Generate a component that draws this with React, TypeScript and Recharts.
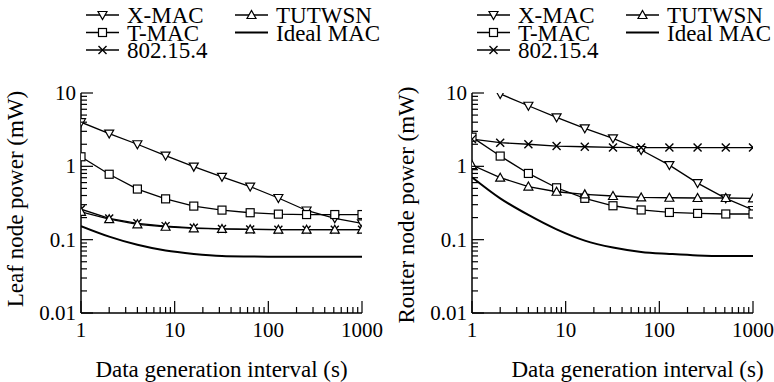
import React from 'react';
import { LineChart, Line, XAxis, YAxis } from 'recharts';

// ---------- data ----------
const intervals = [1, 2, 4, 8, 16, 32, 64, 128, 256, 512, 1000];

const seriesNames = ['X-MAC', 'T-MAC', '802.15.4', 'TUTWSN', 'Ideal MAC'];
const seriesKeys = ['xmac', 'tmac', 'ieee', 'tut', 'ideal'];
const seriesShapes = ['down', 'square', 'cross', 'up', 'none'];

const xmacLeaf = [4.0, 2.8, 2.0, 1.4, 0.99, 0.72, 0.53, 0.37, 0.25, 0.195, 0.167];
const tmacLeaf = [1.35, 0.78, 0.49, 0.36, 0.287, 0.253, 0.233, 0.223, 0.22, 0.22, 0.22];
const ieeeLeaf = [0.26, 0.195, 0.167, 0.153, 0.145, 0.14, 0.138, 0.137, 0.137, 0.137, 0.137];
const tutLeaf = [0.24, 0.19, 0.162, 0.15, 0.143, 0.14, 0.138, 0.137, 0.137, 0.137, 0.137];
const idealLeaf = [0.153, 0.11, 0.085, 0.071, 0.064, 0.06, 0.059, 0.0585, 0.0585, 0.0585, 0.0585];

const xmacRouter = [null, 9.7, 6.7, 4.66, 3.3, 2.41, 1.67, 1.04, 0.59, 0.366, 0.254];
const tmacRouter = [2.5, 1.38, 0.8, 0.51, 0.366, 0.29, 0.254, 0.235, 0.228, 0.224, 0.224];
const ieeeRouter = [2.35, 2.1, 2.0, 1.89, 1.85, 1.81, 1.8, 1.8, 1.8, 1.8, 1.8];
const tutRouter = [1.04, 0.7, 0.53, 0.45, 0.415, 0.394, 0.377, 0.373, 0.37, 0.37, 0.365];
const idealRouter = [0.71, 0.366, 0.217, 0.138, 0.097, 0.078, 0.068, 0.064, 0.061, 0.06, 0.06];

const xMajorTicks = [1, 10, 100, 1000];
const xTickLabels = ['1', '10', '100', '1000'];
const yMajorTicks = [0.01, 0.1, 1, 10];
const yTickLabels = ['0.01', '0.1', '1', '10'];
const minorMultipliers = [2, 3, 4, 5, 6, 7, 8, 9];

const xTitle = 'Data generation interval (s)';
const leafTitle = 'Leaf node power (mW)';
const routerTitle = 'Router node power (mW)';

// ---------- helpers ----------
function withMinor(majors: number[]): number[] {
  const out: number[] = [];
  majors.forEach((m, i) => {
    out.push(m);
    if (i < majors.length - 1) minorMultipliers.forEach((k) => out.push(Number((m * k).toPrecision(6))));
  });
  return out;
}
const xTicks = withMinor(xMajorTicks);
const yTicks = withMinor(yMajorTicks);

function majorIndex(v: number, majors: number[]): number {
  return majors.findIndex((m) => Math.abs(m - v) / m < 1e-6);
}

function buildRows(a: any[], b: any[], c: any[], d: any[], e: any[]) {
  return intervals.map((x, i) => ({ x, xmac: a[i], tmac: b[i], ieee: c[i], tut: d[i], ideal: e[i] }));
}
const leafRows = buildRows(xmacLeaf, tmacLeaf, ieeeLeaf, tutLeaf, idealLeaf);
const routerRows = buildRows(xmacRouter, tmacRouter, ieeeRouter, tutRouter, idealRouter);

const FONT = 'Liberation Serif';
const TXT = { fontFamily: FONT } as React.CSSProperties;
const MAJOR_LEN = 12;
const MINOR_LEN = 6;
const TICK_W = 1.2;

// ---------- markers ----------
function Marker({ shape, cx, cy }: { shape: string; cx: number; cy: number }) {
  if (cx == null || cy == null || isNaN(cx) || isNaN(cy)) return <g />;
  const sw = 1.2;
  switch (shape) {
    case 'down':
      return (
        <polygon
          points={`${cx - 4.5},${cy - 3.5} ${cx + 4.5},${cy - 3.5} ${cx},${cy + 4.5}`}
          fill="#fff" stroke="#000" strokeWidth={sw}
        />
      );
    case 'up':
      return (
        <polygon
          points={`${cx - 4.5},${cy + 3.5} ${cx + 4.5},${cy + 3.5} ${cx},${cy - 4.5}`}
          fill="#fff" stroke="#000" strokeWidth={sw}
        />
      );
    case 'square':
      return <rect x={cx - 4} y={cy - 4} width={8} height={8} fill="#fff" stroke="#000" strokeWidth={sw} />;
    case 'cross':
      return (
        <path
          d={`M${cx - 4},${cy - 4}L${cx + 4},${cy + 4}M${cx - 4},${cy + 4}L${cx + 4},${cy - 4}`}
          stroke="#000" strokeWidth={1.4} fill="none"
        />
      );
    default:
      return <g />;
  }
}

const makeDot = (shape: string) => (props: any) =>
  (
    <g key={`d-${shape}-${props.index}`}>
      <Marker shape={shape} cx={props.cx} cy={props.cy} />
    </g>
  );

// ---------- ticks ----------
const BottomTick = (p: any) => {
  const v = p.payload.value;
  const mi = majorIndex(v, xMajorTicks);
  const len = mi >= 0 ? MAJOR_LEN : MINOR_LEN;
  return (
    <g>
      <line x1={p.x} x2={p.x} y1={p.y} y2={p.y - len} stroke="#000" strokeWidth={TICK_W} />
      {mi >= 0 && (
        <text x={p.x} y={p.y + 24} textAnchor="middle" fontSize={21} style={TXT} fill="#000">
          {xTickLabels[mi]}
        </text>
      )}
    </g>
  );
};
const TopTick = (p: any) => {
  const v = p.payload.value;
  const len = majorIndex(v, xMajorTicks) >= 0 ? MAJOR_LEN : MINOR_LEN;
  return <line x1={p.x} x2={p.x} y1={p.y} y2={p.y + len} stroke="#000" strokeWidth={TICK_W} />;
};
const LeftTick = (p: any) => {
  const v = p.payload.value;
  const mi = majorIndex(v, yMajorTicks);
  const len = mi >= 0 ? MAJOR_LEN : MINOR_LEN;
  return (
    <g>
      <line x1={p.x} x2={p.x + len} y1={p.y} y2={p.y} stroke="#000" strokeWidth={TICK_W} />
      {mi >= 0 && (
        <text x={p.x - 5} y={p.y + 7} textAnchor="end" fontSize={21} style={TXT} fill="#000">
          {yTickLabels[mi]}
        </text>
      )}
    </g>
  );
};
const RightTick = (p: any) => {
  const v = p.payload.value;
  const len = majorIndex(v, yMajorTicks) >= 0 ? MAJOR_LEN : MINOR_LEN;
  return <line x1={p.x} x2={p.x - len} y1={p.y} y2={p.y} stroke="#000" strokeWidth={TICK_W} />;
};

// ---------- legend ----------
function LegendBox({ plotLeft }: { plotLeft: number }) {
  const rowsY = [15, 32.5, 50];
  return (
    <svg width={387} height={64} style={{ position: 'absolute', left: 0, top: 0, pointerEvents: 'none' }}>
      {seriesNames.map((name, i) => {
        const col = i < 3 ? 0 : 1;
        const row = i % 3;
        const x0 = plotLeft + 5 + col * 149;
        const cy = rowsY[row];
        return (
          <g key={name}>
            <line x1={x0} x2={x0 + 33} y1={cy} y2={cy} stroke="#000" strokeWidth={seriesShapes[i] === 'none' ? 2 : 1.3} />
            <Marker shape={seriesShapes[i]} cx={x0 + 16.5} cy={cy} />
            <text x={x0 + 41} y={cy + 8} fontSize={23} style={TXT} fill="#000">
              {name}
            </text>
          </g>
        );
      })}
    </svg>
  );
}

// ---------- panel ----------
function Panel({
  rows, yTitle, left, marginLeft, marginRight, xTitleDx, yTitleDy,
}: {
  rows: any[]; yTitle: string; left: number; marginLeft: number; marginRight: number; xTitleDx: number; yTitleDy: number;
}) {
  const axisLine = { stroke: '#000', strokeWidth: 1.5 };
  const xLabel = (props: any) => {
    const vb = props.viewBox || { x: 0, y: 0, width: 0 };
    return (
      <text x={vb.x + vb.width / 2 + xTitleDx} y={vb.y + 64} textAnchor="middle" fontSize={23} style={TXT} fill="#000">
        {xTitle}
      </text>
    );
  };
  const yLabel = (props: any) => {
    const vb = props.viewBox || { x: 0, y: 0, width: 0, height: 0 };
    const cx = vb.x + vb.width - 66;
    const cy = vb.y + vb.height / 2 + yTitleDy;
    return (
      <text
        x={cx} y={cy} transform={`rotate(-90, ${cx}, ${cy})`} textAnchor="middle" dominantBaseline="central"
        fontSize={23} style={TXT} fill="#000"
      >
        {yTitle}
      </text>
    );
  };
  return (
    <div style={{ position: 'absolute', left, top: 0, width: 387, height: 382, fontFamily: FONT }}>
      <LineChart width={387} height={382} data={rows} margin={{ top: 93, right: marginRight, bottom: 9, left: marginLeft }}>
        <XAxis
          xAxisId="b" dataKey="x" type="number" scale="log" domain={[1, 1000]} allowDataOverflow
          ticks={xTicks} interval={0} tickSize={0} tickMargin={0} tickLine={false} axisLine={axisLine}
          height={60} tick={(p: any) => <BottomTick {...p} />} label={xLabel}
        />
        <XAxis
          xAxisId="t" orientation="top" dataKey="x" type="number" scale="log" domain={[1, 1000]} allowDataOverflow
          ticks={xTicks} interval={0} tickSize={0} tickMargin={0} tickLine={false} axisLine={axisLine}
          height={0} tick={(p: any) => <TopTick {...p} />}
        />
        <YAxis
          yAxisId="l" type="number" scale="log" domain={[0.01, 10]} allowDataOverflow
          ticks={yTicks} interval={0} tickSize={0} tickMargin={0} tickLine={false} axisLine={axisLine}
          width={60} tick={(p: any) => <LeftTick {...p} />} label={yLabel}
        />
        <YAxis
          yAxisId="r" orientation="right" type="number" scale="log" domain={[0.01, 10]} allowDataOverflow
          ticks={yTicks} interval={0} tickSize={0} tickMargin={0} tickLine={false} axisLine={axisLine}
          width={0} tick={(p: any) => <RightTick {...p} />}
        />
        {seriesKeys.map((k, i) =>
          seriesShapes[i] === 'none' ? (
            <Line
              key={k} xAxisId="b" yAxisId="l" dataKey={k} type="monotone" stroke="#000" strokeWidth={2}
              dot={false} activeDot={false} isAnimationActive={false} name={seriesNames[i]}
            />
          ) : (
            <Line
              key={k} xAxisId="b" yAxisId="l" dataKey={k} type="linear" stroke="#000" strokeWidth={1.3}
              dot={makeDot(seriesShapes[i])} activeDot={false} isAnimationActive={false} name={seriesNames[i]}
            />
          )
        )}
      </LineChart>
      <LegendBox plotLeft={marginLeft + 60} />
    </div>
  );
}

export default function App() {
  return (
    <div style={{ position: 'absolute', left: 0, top: 0, width: 774, height: 382, background: '#fff', overflow: 'hidden' }}>
      <Panel rows={leafRows} yTitle={leafTitle} left={0} marginLeft={21} marginRight={25} xTitleDx={0} yTitleDy={-4} />
      <Panel rows={routerRows} yTitle={routerTitle} left={387} marginLeft={25} marginRight={21} xTitleDx={25} yTitleDy={2} />
    </div>
  );
}
